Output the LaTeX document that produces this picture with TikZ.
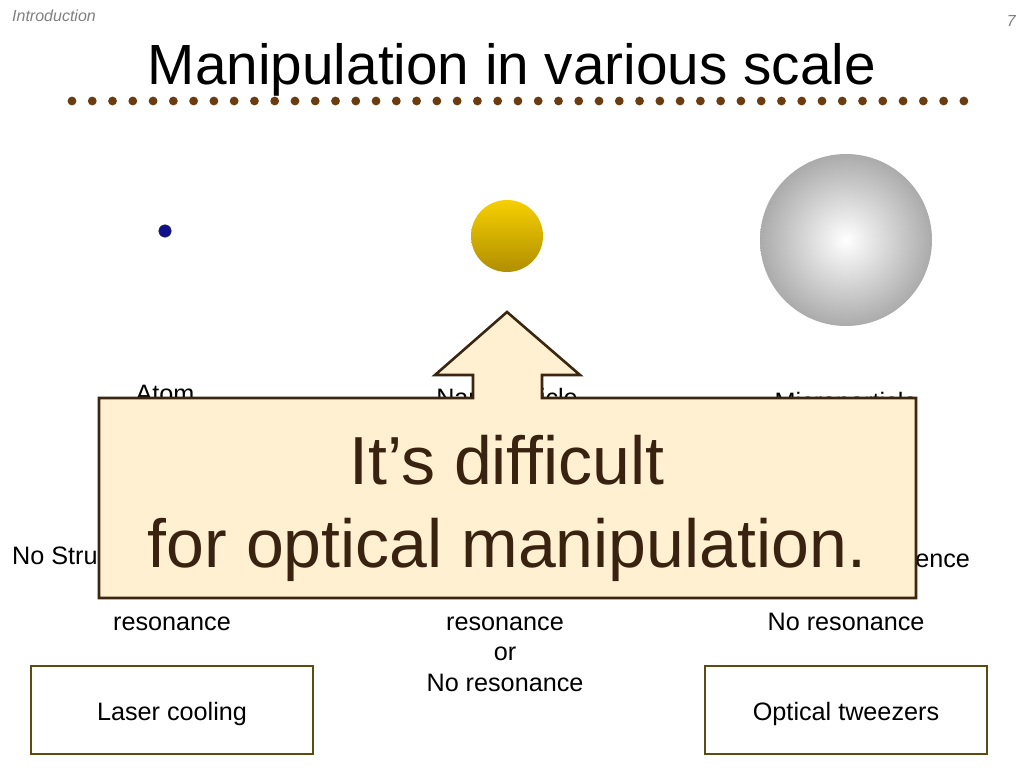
\documentclass[tikz,border=0pt]{standalone}
\usepackage{fontspec}
\setmainfont{Liberation Sans}
\definecolor{dotbrown}{HTML}{6B3C10}
\definecolor{boxline}{HTML}{5E4B12}
\definecolor{callline}{HTML}{3B2610}
\definecolor{callfill}{HTML}{FFF0D2}
\definecolor{calltext}{HTML}{3A2210}
\definecolor{headgray}{HTML}{808080}
\definecolor{goldtop}{HTML}{F6D000}
\definecolor{goldbot}{HTML}{B08E00}
\definecolor{atomblue}{HTML}{10108A}
\tikzset{
  lbl/.style={font=\fontsize{25.2}{30}\selectfont, inner sep=0pt, anchor=base},
  methodbox/.style={draw=boxline, line width=2.5pt, minimum width=282pt, minimum height=88pt, inner sep=0pt, text height=20pt, text depth=0pt, font=\fontsize{25.2}{30}\selectfont},
  hdr/.style={font=\fontsize{16}{19}\selectfont\itshape, text=headgray, inner sep=0pt},
}
\begin{document}
\begin{tikzpicture}[x=1pt,y=-1pt]
\useasboundingbox (0,0) rectangle (1024,768);
\fill[white] (0,0) rectangle (1024,768);
% header
\node[hdr, anchor=base west] (intro) at (12,22) {Introduction};
\node[hdr, anchor=base east] (pnum) at (1016,27) {7};
\node[font=\fontsize{56.7}{68}\selectfont, inner sep=0pt, anchor=base] (title) at (512,84) {Manipulation in various scale};
\foreach \i in {0,...,44} \fill[dotbrown] (72+\i*20.27,101) circle (4.4);
% particles
\fill[atomblue] (165,231) circle (6.3);
\draw[black!70, line width=0.4pt] (165,231) circle (6.3);
\shade[top color=goldtop, bottom color=goldbot] (507,236) circle (36);
\shade[inner color=white, outer color=black!33] (846,240) circle (86);
% labels (partly hidden)
\node[lbl] (atom) at (165,402) {Atom};
\node[lbl] (nano) at (507,406) {Nanoparticle};
\node[lbl] (micro) at (846,410) {Microparticle};
\node[lbl, anchor=base west] (nostruct) at (12,564) {No Structure};
\node[lbl] (sdep) at (846,567) {Structure dependence};
\node[lbl] (res1) at (172,630) {resonance};
\node[lbl] (res2) at (505,630) {resonance};
\node[lbl] (or) at (505,660) {or};
\node[lbl] (nores2) at (505,691) {No resonance};
\node[lbl] (nores3) at (846,630) {No resonance};
% method boxes
\node[methodbox] (laser) at (172,710) {Laser cooling};
\node[methodbox] (tweez) at (846,710) {Optical tweezers};
% callout
\draw[fill=callfill, draw=callline, line width=2.6pt, line join=miter]
  (99,398) -- (473,398) -- (473,375) -- (435,375) -- (507,312) -- (580,375)
  -- (542,375) -- (542,398) -- (916,398) -- (916,598) -- (99,598) -- cycle;
\node[font=\fontsize{68}{83}\selectfont, text=calltext, inner sep=0pt, anchor=base] (c1) at (507,484) {It’s difficult};
\node[font=\fontsize{68}{83}\selectfont, text=calltext, inner sep=0pt, anchor=base] (c2) at (507,567) {for optical manipulation.};
\end{tikzpicture}
\end{document}
